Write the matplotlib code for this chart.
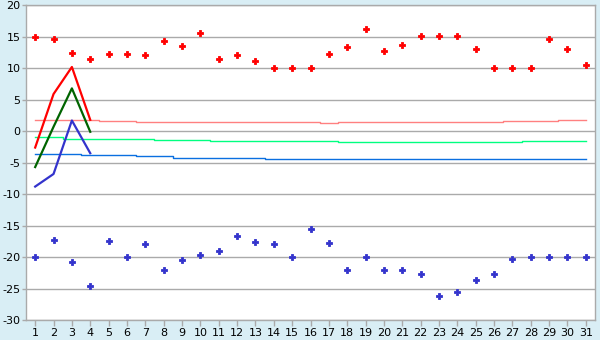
import numpy as np
import matplotlib
matplotlib.use("Agg")
import matplotlib.pyplot as plt

days = list(range(1, 32))

# daily max / min markers
max_vals = [15.0, 14.6, 12.4, 11.4, 12.2, 12.2, 12.1, 14.4, 13.5, 15.6,
            11.4, 12.1, 11.1, 10.0, 10.0, 10.0, 12.2, 13.3, 16.3, 12.8,
            13.7, 15.2, 15.1, 15.1, 13.0, 10.0, 10.0, 10.0, 14.6, 13.0, 10.5]
min_vals = [-20.0, -17.3, -20.8, -24.6, -17.5, -20.0, -18.0, -22.1, -20.5, -19.7,
            -19.0, -16.7, -17.6, -18.0, -20.0, -15.6, -17.7, -22.1, -20.0, -22.1,
            -22.1, -22.7, -26.2, -25.6, -23.7, -22.7, -20.3, -20.0, -20.0, -20.0, -20.0]

# first days of the month, measured
line_days = [1, 2, 3, 4]
red_line = [-2.6, 5.9, 10.2, 1.8]
green_line = [-5.7, 0.7, 6.8, -0.1]
blue_line = [-8.8, -6.8, 1.7, -3.5]

# long-term averages (step lines)
avg_max = [1.78] * 4 + [1.6] * 2 + [1.43] * 10 + [1.27] + [1.43] * 9 + [1.6] * 3 + [1.75] * 2
avg_mean = [-0.95] * 2 + [-1.17] * 5 + [-1.38] * 3 + [-1.57] * 7 + [-1.75] * 10 + [-1.59] * 4
avg_min = [-3.7] * 3 + [-3.85] * 3 + [-4.0] * 2 + [-4.2] * 5 + [-4.42] * 18

bg = "#d9eef5"
fig = plt.figure(figsize=(6, 3.4), dpi=100, facecolor=bg)
ax = fig.add_axes([26 / 600, 20 / 340, 569 / 600, 314.7 / 340])
ax.set_facecolor("white")

ax.yaxis.grid(True, color="#aaaaaa", linewidth=1.0)
ax.set_axisbelow(True)

ax.plot(days, avg_max, drawstyle="steps-mid", color="#ff8080", lw=1.0)
ax.plot(days, avg_mean, drawstyle="steps-mid", color="#00ff80", lw=1.0)
ax.plot(days, avg_min, drawstyle="steps-mid", color="#0a6fe0", lw=1.0)

ax.plot(line_days, red_line, color="#ff0000", lw=1.6)
ax.plot(line_days, green_line, color="#006400", lw=1.6)
ax.plot(line_days, blue_line, color="#3333cc", lw=1.6)

ax.plot(days, max_vals, linestyle="none", marker="P", ms=4.5, mew=0.6, color="#ff0000")
ax.plot(days, min_vals, linestyle="none", marker="P", ms=4.5, mew=0.6, color="#3333cc")

ax.set_xlim(0.5, 31.5)
ax.set_ylim(-30, 20)
ax.set_xticks(days)
ax.set_yticks(np.arange(-30, 21, 5))
ax.set_yticklabels([str(v) for v in range(-30, 21, 5)])

for s in ax.spines.values():
    s.set_color("#aaaaaa")
    s.set_linewidth(1.0)
ax.tick_params(axis="both", colors="#aaaaaa", labelcolor="black", labelsize=8, length=4, width=1.0, pad=2)
ax.tick_params(axis="y", length=3, pad=1)

fig.savefig("out.png", dpi=100, facecolor=bg)
